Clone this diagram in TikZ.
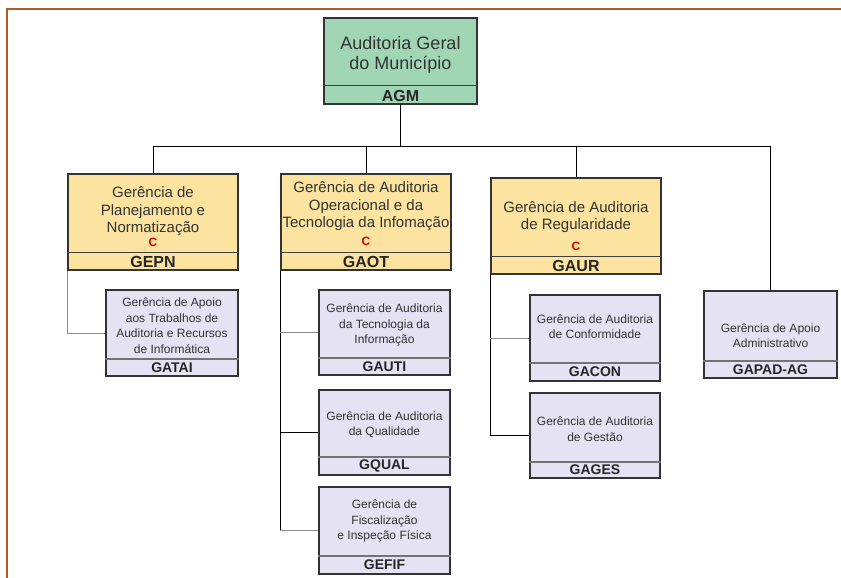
\documentclass[tikz,border=0pt]{standalone}
\usepackage{fontspec}
\setmainfont{Liberation Sans}
\begin{document}
\begin{tikzpicture}[x=1pt,y=-1pt,
  box/.style={draw=black!80,line width=1.1pt,inner sep=0pt},
  agmbox/.style={box,fill=agmgreen},
  mgrbox/.style={box,fill=mgryellow},
  subbox/.style={box,fill=sublav},
  divl/.style={draw=black!75,line width=1pt},
  subdiv/.style={draw=black!55,line width=1.3pt},
  conn/.style={draw=black,line width=0.9pt},
  gconn/.style={draw=black!45,line width=0.9pt},
  agmtxt/.style={align=center,text=black!80,font=\fontsize{18}{20}\selectfont,inner sep=0pt},
  mgrtxt/.style={align=center,text=black!80,font=\fontsize{15}{17.5}\selectfont,inner sep=0pt},
  subtxt/.style={align=center,text=black!80,font=\fontsize{12}{15.5}\selectfont,inner sep=0pt},
  biglbl/.style={text=black!85,font=\bfseries\fontsize{16}{17}\selectfont,inner sep=0pt},
  sublbl/.style={text=black!85,font=\bfseries\fontsize{14}{15}\selectfont,inner sep=0pt},
  ctxt/.style={text=red!85!black,font=\bfseries\fontsize{12}{12}\selectfont,inner sep=0pt}
]
\definecolor{agmgreen}{RGB}{160,214,180}
\definecolor{mgryellow}{RGB}{252,228,160}
\definecolor{sublav}{RGB}{228,226,243}
\definecolor{framebrown}{RGB}{176,92,36}
\useasboundingbox (0,0) rectangle (841,578);
\fill[white] (0,0) rectangle (841,578);
% frame
\draw[framebrown,line width=1.6pt] (7,578) -- (7,9) -- (841,9);

% AGM
\node[agmbox,minimum width=153pt,minimum height=86pt] (agm) at (400.5,61) {};
\draw[divl] (agm.west |- 0,86) -- (agm.east |- 0,86);
\node[agmtxt] (agmt) at (400.5,55) {Auditoria Geral\\do Município};
\node[biglbl] (agml) at (400.5,96) {AGM};

% Managers
\node[mgrbox,minimum width=170pt,minimum height=96pt] (gepn) at (153,222) {};
\draw[divl] (gepn.west |- 0,252) -- (gepn.east |- 0,252);
\node[mgrtxt] (gepnt) at (153,211.5) {Gerência de\\Planejamento e\\Normatização};
\node[ctxt] (gepnc) at (153,242) {C};
\node[biglbl] (gepnl) at (153,261.5) {GEPN};

\node[mgrbox,minimum width=170pt,minimum height=96pt] (gaot) at (366,222) {};
\draw[divl] (gaot.west |- 0,252) -- (gaot.east |- 0,252);
\node[mgrtxt] (gaott) at (366,206.5) {Gerência de Auditoria\\Operacional e da\\Tecnologia da Infomação};
\node[ctxt] (gaotc) at (366,241) {C};
\node[biglbl] (gaotl) at (366,261.5) {GAOT};

\node[mgrbox,minimum width=170pt,minimum height=96pt] (gaur) at (576,226) {};
\draw[divl] (gaur.west |- 0,256) -- (gaur.east |- 0,256);
\node[mgrtxt] (gaurt) at (576,217) {Gerência de Auditoria\\de Regularidade};
\node[ctxt] (gaurc) at (576,246) {C};
\node[biglbl] (gaurl) at (576,266) {GAUR};

% Sub boxes
\node[subbox,minimum width=132pt,minimum height=86pt] (gatai) at (172,333) {};
\draw[subdiv] (gatai.west |- 0,359) -- (gatai.east |- 0,359);
\node[subtxt] (gatait) at (172,325.5) {Gerência de Apoio\\aos Trabalhos de\\Auditoria e Recursos\\de Informática};
\node[sublbl] (gatail) at (172,368) {GATAI};

\node[subbox,minimum width=131pt,minimum height=85pt] (gauti) at (384.5,332.5) {};
\draw[subdiv] (gauti.west |- 0,358) -- (gauti.east |- 0,358);
\node[subtxt] (gautit) at (384.5,325) {Gerência de Auditoria\\da Tecnologia da\\Informação};
\node[sublbl] (gautil) at (384.5,367) {GAUTI};

\node[subbox,minimum width=131pt,minimum height=85pt] (gqual) at (384.5,432.5) {};
\draw[subdiv] (gqual.west |- 0,457) -- (gqual.east |- 0,457);
\node[subtxt] (gqualt) at (384.5,425) {Gerência de Auditoria\\da Qualidade};
\node[sublbl] (gquall) at (384.5,466) {GQUAL};

\node[subbox,minimum width=131pt,minimum height=87pt] (gefif) at (384.5,530.5) {};
\draw[subdiv] (gefif.west |- 0,556) -- (gefif.east |- 0,556);
\node[subtxt] (gefift) at (384.5,521) {Gerência de\\Fiscalização\\e Inspeção Física};
\node[sublbl] (gefifl) at (384.5,565) {GEFIF};

\node[subbox,minimum width=130pt,minimum height=86pt] (gacon) at (595,338) {};
\draw[subdiv] (gacon.west |- 0,363) -- (gacon.east |- 0,363);
\node[subtxt] (gacont) at (595,326.5) {Gerência de Auditoria\\de Conformidade};
\node[sublbl] (gaconl) at (595,372) {GACON};

\node[subbox,minimum width=130pt,minimum height=85pt] (gages) at (595,435.5) {};
\draw[subdiv] (gages.west |- 0,462) -- (gages.east |- 0,462);
\node[subtxt] (gagest) at (595,429) {Gerência de Auditoria\\de Gestão};
\node[sublbl] (gagesl) at (595,470) {GAGES};

\node[subbox,minimum width=133pt,minimum height=87pt] (gapad) at (770.5,334.5) {};
\draw[subdiv] (gapad.west |- 0,361) -- (gapad.east |- 0,361);
\node[subtxt] (gapadt) at (770.5,335.5) {Gerência de Apoio\\Administrativo};
\node[sublbl] (gapadl) at (770.5,369.5) {GAPAD-AG};

% connectors
\coordinate (bus) at (402,146);
\draw[conn] (agm.south) -- (agm.south |- bus);
\draw[conn] (gepn.north) -- (gepn.north |- bus) -- (gapad.north |- bus) -- (gapad.north);
\draw[conn] (gaot.north) -- (gaot.north |- bus);
\draw[conn] (gaur.north) -- (gaur.north |- bus);

\draw[gconn] (gepn.south west) |- (gatai.west);

\draw[conn] (gaot.south west) |- (gefif.west);
\draw[gconn] (gaot.south west |- gauti.west) -- (gauti.west);
\draw[conn] (gaot.south west |- gqual.west) -- (gqual.west);
\draw[gconn] (gaot.south west |- gefif.west) -- (gefif.west);

\draw[conn] (gaur.south west) |- (gages.west);
\draw[gconn] (gaur.south west |- gacon.west) -- (gacon.west);
\end{tikzpicture}
\end{document}
